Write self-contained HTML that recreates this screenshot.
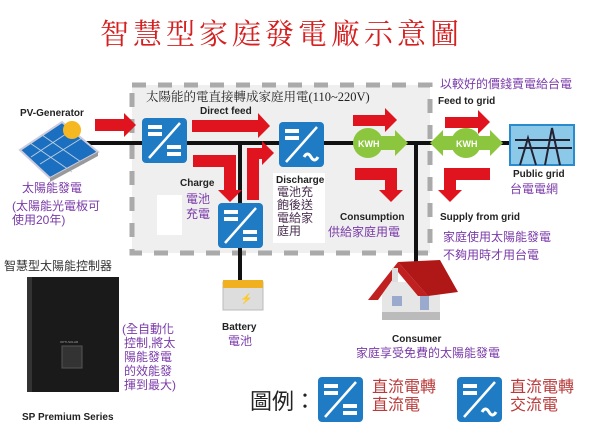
<!DOCTYPE html>
<html><head><meta charset="utf-8"><style>
body{margin:0;background:#fff;}
svg text{font-family:"Liberation Sans","Noto Sans CJK TC",sans-serif;}
.b{font-weight:bold;font-size:10px;fill:#222;}
.p{font-size:12px;fill:#7a3aa8;}
.d{font-size:12px;fill:#4a3050;}
</style></head><body>
<svg width="600" height="428" viewBox="0 0 600 428" xmlns="http://www.w3.org/2000/svg">
<defs>
<g id="dc">
<rect x="0" y="0" width="45" height="45" rx="4" fill="#1f7cc4"/>
<rect x="6" y="7" width="14" height="4" fill="#fff"/><rect x="6" y="14" width="14" height="4" fill="#fff"/>
<line x1="7" y1="40" x2="38" y2="5" stroke="#fff" stroke-width="2.5"/>
</g>
<g id="cdc"><use href="#dc"/><rect x="25" y="27" width="14" height="4" fill="#fff"/><rect x="25" y="34" width="14" height="4" fill="#fff"/></g>
<g id="cac"><use href="#dc"/><path d="M25 35 q3.5-6 7 0 t7 0" stroke="#fff" stroke-width="3" fill="none"/></g>
</defs>
<!-- title -->
<text x="100" y="44" font-size="29" fill="#d42020" style="font-family:'Noto Serif CJK SC',serif;letter-spacing:4px">智慧型家庭發電廠示意圖</text>
<!-- dashed box -->
<rect x="132" y="85" width="298" height="168" fill="#efefef" stroke="#aaa" stroke-width="5" stroke-dasharray="14,12"/>
<rect x="157" y="195" width="25" height="40" fill="#fff"/>
<rect x="273" y="173" width="52" height="70" fill="#fff"/>
<!-- black lines -->
<path d="M80 143 H510 M240 143 V292 M416 143 V272" stroke="#111" stroke-width="4" fill="none"/>
<!-- converters -->
<use href="#cdc" x="142" y="118"/>
<use href="#cac" x="279" y="122"/>
<use href="#cdc" x="218" y="203"/>
<!-- red arrows -->
<g fill="#e0141e">
<path d="M95 119 H124 V113 L136 125 L124 137 V131 H95Z"/>
<path d="M192 120 H258 V113 L270 126 L258 138 V132 H192Z"/>
<path d="M193 155 H236 V190 H242 L230 202 L218 190 H224 V167 H193Z"/>
<path d="M247 200 V148 H262 V141 L274 153 L262 165 V159 H259 V200Z"/>
<path d="M353 115 H385 V108 L397 120 L385 132 V126 H353Z"/>
<path d="M355 168 H397 V190 H403 L391 202 L379 190 H385 V180 H355Z"/>
<path d="M445 117 H478 V110 L490 122 L478 134 V128 H445Z"/>
<path d="M490 168 H444 V190 H438 L450 202 L462 190 H456 V180 H490Z"/>
</g>
<!-- KWH -->
<g fill="#8cc63e">
<path d="M368 136 H395 V130 L408 143 L395 156 V150 H368Z"/>
<circle cx="368" cy="143" r="15"/>
<path d="M443 136 H490 V130 L503 143 L490 156 V150 H443 V156 L430 143 L443 130Z"/>
<circle cx="466" cy="143" r="15"/>
</g>
<text x="358" y="147" font-size="9" font-weight="bold" fill="#fff">KWH</text>
<text x="456" y="147" font-size="9" font-weight="bold" fill="#fff">KWH</text>
<!-- public grid -->
<rect x="510" y="125" width="64" height="40" fill="#8cc8e8" stroke="#2a8ccc" stroke-width="2"/>
<path d="M520 165 L528 138 L536 165 M545 165 L552 128 L560 165 M515 140 H570 M518 148 H572" stroke="#223" stroke-width="2" fill="none"/>
<!-- solar panel -->
<path d="M20 150 L62 122 L98 152 L50 178Z" fill="#1a6fc0" stroke="#ccd" stroke-width="2"/>
<path d="M31 157 L72 130 M40 164 L82 138 M30 143 L72 172 M42 135 L84 164" stroke="#bcd" stroke-width="1"/>
<path d="M50 178 L98 152 L98 156 L50 182Z" fill="#999"/>
<circle cx="72" cy="130" r="9" fill="#f5b820"/>
<!-- battery -->
<rect x="223" y="282" width="40" height="28" fill="#ddd" stroke="#bbb"/>
<rect x="223" y="280" width="40" height="8" fill="#f0b020"/>
<text x="240" y="302" font-size="10" fill="#e09010">⚡</text>
<!-- controller -->
<rect x="27" y="277" width="92" height="115" fill="#1a1a1a"/>
<rect x="27" y="277" width="5" height="115" fill="#333"/>
<rect x="62" y="346" width="20" height="22" fill="#333" stroke="#555"/>
<text x="60" y="343" font-size="3" fill="#aaa">OPTI-SOLAR</text>
<!-- house -->
<rect x="382" y="282" width="58" height="38" fill="#e6e6e6"/>
<rect x="382" y="312" width="58" height="8" fill="#bbb"/>
<path d="M368 300 L398 262 L428 296 L418 296 L398 272 L378 300Z" fill="#c02020"/>
<path d="M398 262 L440 260 L458 292 L428 296Z" fill="#b01818"/>
<rect x="392" y="268" width="6" height="14" fill="#ddd"/>
<rect x="392" y="296" width="10" height="10" fill="#9ac"/><rect x="420" y="296" width="9" height="14" fill="#9ac"/>
<!-- texts -->
<text class="b" x="20" y="116">PV-Generator</text>
<text class="p" x="22" y="192">太陽能發電</text>
<text class="p" x="12" y="210">(太陽能光電板可</text>
<text class="p" x="12" y="224">使用20年)</text>
<text x="146" y="101" font-size="12.5" fill="#222" style="font-family:'Liberation Serif','Noto Serif CJK SC',serif">太陽能的電直接轉成家庭用電(110~220V)</text>
<text class="b" x="200" y="114">Direct feed</text>
<text class="b" x="180" y="186">Charge</text>
<text class="p" x="186" y="203">電池</text><text class="p" x="186" y="218">充電</text>
<text class="b" x="276" y="183">Discharge</text>
<text class="d" x="277" y="196">電池充</text><text class="d" x="277" y="209">飽後送</text><text class="d" x="277" y="222">電給家</text><text class="d" x="277" y="235">庭用</text>
<text class="b" x="340" y="220">Consumption</text>
<text class="p" x="328" y="236">供給家庭用電</text>
<text class="p" x="440" y="88">以較好的價錢賣電給台電</text>
<text class="b" x="438" y="104">Feed to grid</text>
<text class="b" x="513" y="177">Public grid</text>
<text class="p" x="510" y="193">台電電網</text>
<text class="b" x="440" y="220">Supply from grid</text>
<text class="p" x="443" y="241">家庭使用太陽能發電</text>
<text class="p" x="443" y="259">不夠用時才用台電</text>
<text x="4" y="270" font-size="12" fill="#333">智慧型太陽能控制器</text>
<text class="p" x="122" y="333">(全自動化</text><text class="p" x="124" y="347">控制,將太</text><text class="p" x="124" y="361">陽能發電</text><text class="p" x="124" y="375">的效能發</text><text class="p" x="124" y="389">揮到最大)</text>
<text class="b" x="22" y="420">SP Premium Series</text>
<text class="b" x="222" y="330">Battery</text>
<text class="p" x="228" y="345">電池</text>
<text class="b" x="392" y="342">Consumer</text>
<text class="p" x="356" y="357">家庭享受免費的太陽能發電</text>
<text x="250" y="409" font-size="22" fill="#222">圖例：</text>
<use href="#cdc" x="318" y="377"/>
<use href="#cac" x="457" y="377"/>
<text x="372" y="392" font-size="16" fill="#b83a3a">直流電轉</text><text x="372" y="410" font-size="16" fill="#b83a3a">直流電</text>
<text x="510" y="392" font-size="16" fill="#b83a3a">直流電轉</text><text x="510" y="410" font-size="16" fill="#b83a3a">交流電</text>
</svg>
</body></html>
